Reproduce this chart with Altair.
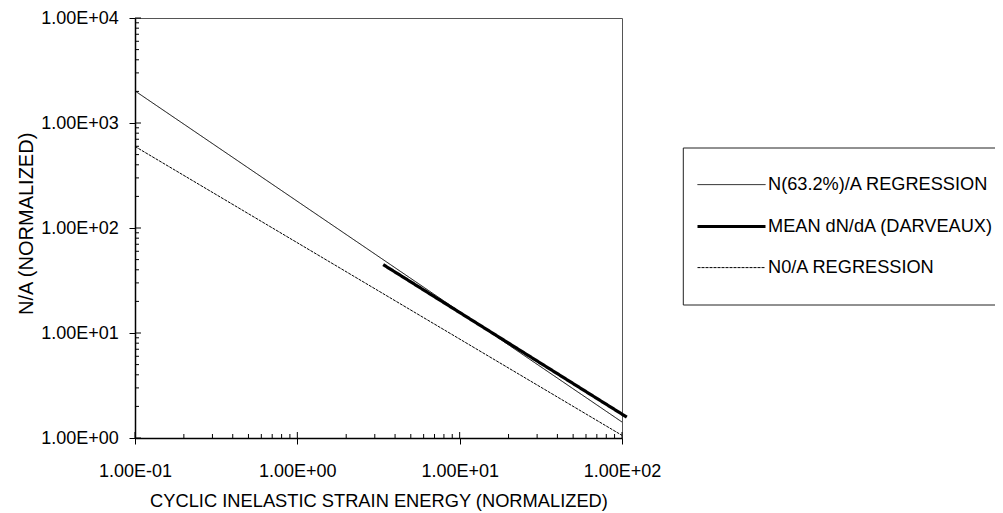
import altair as alt
import pandas as pd

series_names = ["N(63.2%)/A REGRESSION", "MEAN dN/dA (DARVEAUX)", "N0/A REGRESSION"]

n632_x = [0.1, 100]
n632_y = [2020, 1.42]
mean_x = [3.38, 107]
mean_y = [44.8, 1.58]
n0_x = [0.1, 100]
n0_y = [598, 1.06]

x_major = [0.1, 1, 10, 100]
x_minor = [0.2, 0.3, 0.4, 0.5, 0.6, 0.7, 0.8, 0.9,
           2, 3, 4, 5, 6, 7, 8, 9,
           20, 30, 40, 50, 60, 70, 80, 90]
y_major = [1, 10, 100, 1000, 10000]
y_minor = [2, 3, 4, 5, 6, 7, 8, 9,
           20, 30, 40, 50, 60, 70, 80, 90,
           200, 300, 400, 500, 600, 700, 800, 900,
           2000, 3000, 4000, 5000, 6000, 7000, 8000, 9000]

W, H = 487, 420
TOP = 10
FONT = "Liberation Sans"

rows = []
for name, xs_, ys_ in [(series_names[0], n632_x, n632_y),
                       (series_names[1], mean_x, mean_y),
                       (series_names[2], n0_x, n0_y)]:
    for i, (a, b) in enumerate(zip(xs_, ys_)):
        rows.append({"series": name, "x": a, "y": b, "i": i})
df = pd.DataFrame(rows)

xscale = alt.Scale(type="log", domain=[0.1, 100], nice=False)
yscale = alt.Scale(type="log", domain=[1, 10000], nice=False)

E = "round(log(datum.value)/LN10)"
label_expr = f"'1.00E' + ({E} < 0 ? '-' : '+') + (abs({E}) < 10 ? '0' : '') + abs({E})"

x_axis = alt.Axis(values=x_major, labelExpr=label_expr,
                  title="CYCLIC INELASTIC STRAIN ENERGY (NORMALIZED)",
                  tickSize=6, labelPadding=32.3, labelBaseline="alphabetic",
                  titleY=68.3, titleBaseline="alphabetic", titleFontSize=18.3,
                  labelFontSize=18, labelOverlap=False, labelFlush=False, grid=False)
y_axis = alt.Axis(values=y_major, labelExpr=label_expr,
                  title="N/A (NORMALIZED)",
                  tickSize=6, labelPadding=10.7,
                  titleX=-102.7, titleY=205.3, titleAngle=270,
                  titleBaseline="alphabetic", titleFontSize=20,
                  labelFontSize=18, labelOverlap=False, labelFlush=False, grid=False)

legend = alt.Legend(orient="none", legendX=560.5, legendY=157.5, title=None,
                    symbolType="M-1,0H7", symbolSize=289,
                    labelFont=FONT, labelFontSize=18.2, labelColor="black",
                    labelOffset=51.5, rowPadding=22.5, padding=0, labelLimit=400)

lines = alt.Chart(df).mark_line(clip=False).encode(
    x=alt.X("x:Q", scale=xscale, axis=x_axis),
    y=alt.Y("y:Q", scale=yscale, axis=y_axis),
    color=alt.Color("series:N", scale=alt.Scale(domain=series_names, range=["black", "black", "black"]), legend=legend),
    strokeDash=alt.StrokeDash("series:N", scale=alt.Scale(domain=series_names, range=[[1, 0], [1, 0], [3, 1]]), legend=legend),
    strokeWidth=alt.StrokeWidth("series:N", scale=alt.Scale(type="ordinal", domain=series_names, range=[1, 3.2, 1]), legend=legend),
    order="i:Q",
)

x_minor_ticks = alt.Chart(pd.DataFrame({"x": x_minor})).mark_rule(color="black", strokeWidth=1).encode(
    x=alt.X("x:Q", scale=xscale, axis=x_axis), y=alt.value(H), y2=alt.value(H - 4))
x_major_ticks = alt.Chart(pd.DataFrame({"x": x_major})).mark_rule(color="black", strokeWidth=1).encode(
    x=alt.X("x:Q", scale=xscale, axis=x_axis), y=alt.value(H), y2=alt.value(H - 6))
y_minor_ticks = alt.Chart(pd.DataFrame({"y": y_minor})).mark_rule(color="black", strokeWidth=1).encode(
    y=alt.Y("y:Q", scale=yscale, axis=y_axis), x=alt.value(0), x2=alt.value(4))
y_major_ticks = alt.Chart(pd.DataFrame({"y": y_major})).mark_rule(color="black", strokeWidth=1).encode(
    y=alt.Y("y:Q", scale=yscale, axis=y_axis), x=alt.value(0), x2=alt.value(6))

# legend frame (left, top and bottom edges; right edge lies beyond the picture)
FL, FR, FT, FB = 548.3, 900, 130, 287
one = pd.DataFrame({"k": [0]})
frame_top = alt.Chart(one).mark_rule(color="#222", strokeWidth=1, clip=False).encode(
    x=alt.value(FL), x2=alt.value(FR), y=alt.value(FT))
frame_bottom = alt.Chart(one).mark_rule(color="#222", strokeWidth=1, clip=False).encode(
    x=alt.value(FL), x2=alt.value(FR), y=alt.value(FB))
frame_left = alt.Chart(one).mark_rule(color="#222", strokeWidth=1, clip=False).encode(
    x=alt.value(FL), y=alt.value(FT), y2=alt.value(FB))

chart = alt.layer(lines, x_minor_ticks, x_major_ticks, y_minor_ticks, y_major_ticks,
                  frame_top, frame_bottom, frame_left).properties(
    width=W, height=H,
    autosize=alt.AutoSizeParams(type="none"),
    padding={"left": 127, "top": TOP, "right": 987 - 127 - W, "bottom": 505 - TOP - H},
).configure(
    font=FONT,
).configure_view(
    stroke="#555", strokeWidth=1,
).configure_axis(
    domainColor="black", domainWidth=1.5, tickColor="black", tickWidth=1,
    labelColor="black", titleColor="black", labelFont=FONT, titleFont=FONT,
    titleFontWeight="normal",
)

chart.save("out.html", embed_options={"renderer": "svg", "actions": False})
